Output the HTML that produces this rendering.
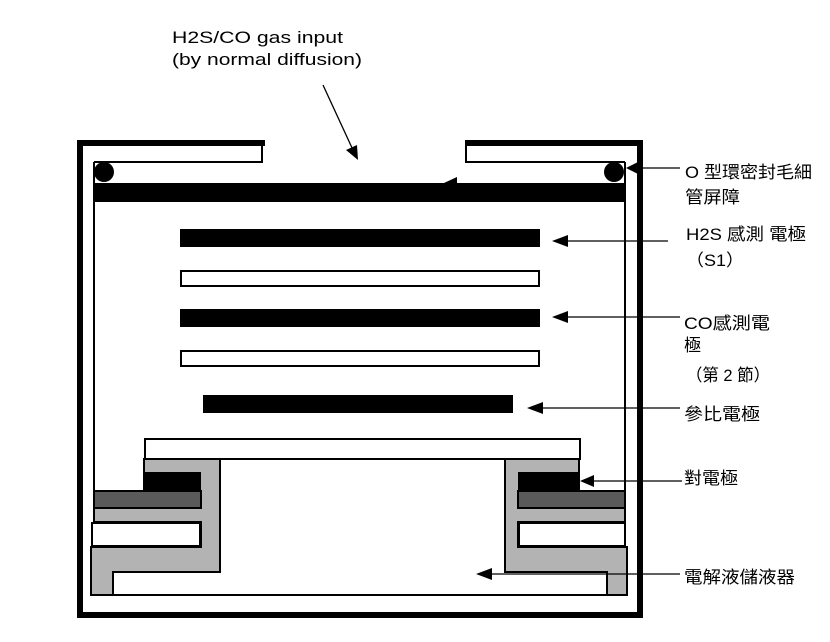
<!DOCTYPE html>
<html><head><meta charset="utf-8"><style>
html,body{margin:0;padding:0;background:#fff;}
svg{display:block;}
text{font-family:"Liberation Sans","Noto Sans CJK TC",sans-serif;font-size:17px;fill:#000;}
</style></head><body>
<svg width="830" height="642" viewBox="0 0 830 642" xmlns="http://www.w3.org/2000/svg">
<!-- outer frame -->
<path d="M265,143 H80 V615 H640 V143 H465" fill="none" stroke="#000" stroke-width="6"/>
<!-- top lids -->
<path d="M262,143 V162 H94" fill="none" stroke="#000" stroke-width="2"/>
<path d="M466,143 V162 H625" fill="none" stroke="#000" stroke-width="2"/>
<!-- inner box walls -->
<path d="M94,162 V522 M625,162 V522" stroke="#000" stroke-width="2"/>
<!-- o-rings -->
<circle cx="104" cy="172" r="10" fill="#000"/>
<circle cx="614" cy="172" r="10" fill="#000"/>
<!-- black bar -->
<rect x="94" y="183" width="531" height="19" fill="#000"/>
<polygon points="444,183 457,177 457,183" fill="#000"/>
<!-- electrodes -->
<rect x="180" y="229" width="360" height="18" fill="#000"/>
<rect x="181" y="271" width="358" height="15" fill="#fff" stroke="#000" stroke-width="2"/>
<rect x="180" y="309" width="360" height="18" fill="#000"/>
<rect x="181" y="351" width="358" height="15" fill="#fff" stroke="#000" stroke-width="2"/>
<rect x="203" y="395" width="310" height="18" fill="#000"/>
<!-- bottom assembly left -->
<path d="M144,459 H220 V572 H113 V595 H91 V547 H201 V522 H94 V491 H144 Z" fill="#b3b3b3" stroke="#000" stroke-width="2"/>
<rect x="144" y="472" width="57" height="19" fill="#000"/>
<rect x="94" y="491" width="107" height="17" fill="#5a5a5a" stroke="#000" stroke-width="2"/>
<rect x="92" y="523" width="108" height="23" fill="#fff" stroke="#000" stroke-width="2"/>
<!-- right -->
<path d="M579,459 H505 V572 H607 V595 H627 V547 H518 V522 H625 V491 H579 Z" fill="#b3b3b3" stroke="#000" stroke-width="2"/>
<rect x="518" y="472" width="61" height="19" fill="#000"/>
<rect x="518" y="491" width="107" height="17" fill="#5a5a5a" stroke="#000" stroke-width="2"/>
<rect x="519" y="523" width="106" height="23" fill="#fff" stroke="#000" stroke-width="2"/>
<!-- reservoir -->
<path d="M91,595 H627" stroke="#000" stroke-width="2"/>
<!-- plate -->
<rect x="145" y="439" width="435" height="20" fill="#fff" stroke="#000" stroke-width="2"/>
<!-- arrows -->
<g stroke="#000" stroke-width="1.3">
<line x1="323" y1="85" x2="353" y2="150"/>
<line x1="636" y1="168" x2="680" y2="168"/>
<line x1="566" y1="241" x2="668" y2="241"/>
<line x1="566" y1="317" x2="680" y2="317"/>
<line x1="541" y1="408" x2="680" y2="408"/>
<line x1="592" y1="481" x2="682" y2="481"/>
<line x1="490" y1="574" x2="680" y2="574"/>
</g>
<g fill="#000">
<polygon points="358,160 346,150 357,145"/>
<polygon points="626,168 638,162 638,174"/>
<polygon points="552,241 568,235 568,247"/>
<polygon points="552,317 568,311 568,323"/>
<polygon points="527,408 543,402 543,414"/>
<polygon points="580,481 594,475 594,487"/>
<polygon points="476,574 492,568 492,580"/>
</g>
<!-- labels -->
<text x="172" y="43" textLength="171" lengthAdjust="spacingAndGlyphs">H2S/CO gas input</text>
<text x="172" y="65" textLength="190" lengthAdjust="spacingAndGlyphs">(by normal diffusion)</text>
<text x="685" y="178" textLength="127" lengthAdjust="spacingAndGlyphs">O 型環密封毛細</text>
<text x="685" y="203" textLength="55" lengthAdjust="spacingAndGlyphs">管屏障</text>
<text x="686" y="240" textLength="120" lengthAdjust="spacingAndGlyphs">H2S 感測 電極</text>
<text x="686" y="266" textLength="58" lengthAdjust="spacingAndGlyphs">（S1）</text>
<text x="684" y="329" textLength="86" lengthAdjust="spacingAndGlyphs">CO感測電</text>
<text x="684" y="351" textLength="17" lengthAdjust="spacingAndGlyphs">極</text>
<text x="686" y="381" textLength="84" lengthAdjust="spacingAndGlyphs">（第 2 節）</text>
<text x="684" y="420" textLength="76" lengthAdjust="spacingAndGlyphs">參比電極</text>
<text x="684" y="484" textLength="54" lengthAdjust="spacingAndGlyphs">對電極</text>
<text x="684" y="583" textLength="111" lengthAdjust="spacingAndGlyphs">電解液儲液器</text>
</svg>
</body></html>
